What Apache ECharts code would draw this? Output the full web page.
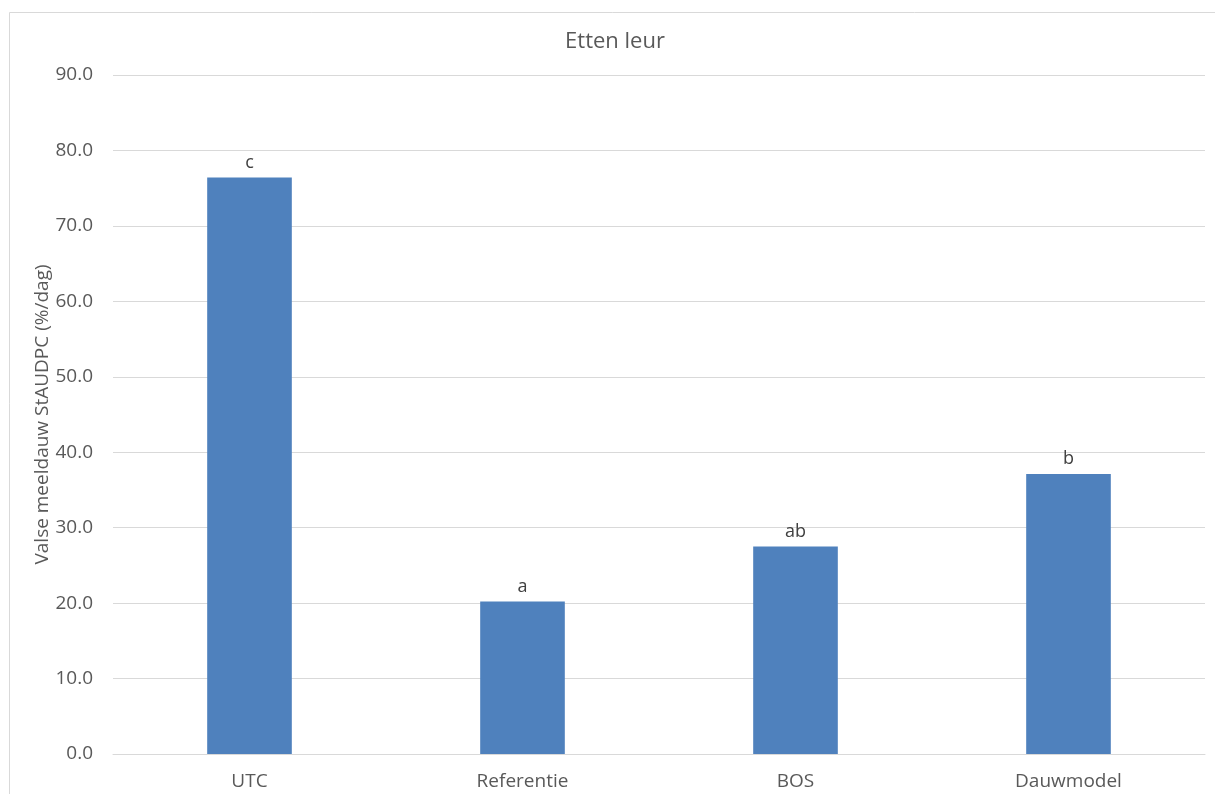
<!DOCTYPE html>
<html>
<head>
<meta charset="utf-8">
<script src="https://cdn.jsdelivr.net/npm/echarts@6/dist/echarts.min.js"></script>
<style>
html,body{margin:0;padding:0;background:#fff;}
#chart{width:1215px;height:794px;}
</style>
</head>
<body>
<div id="chart"></div>
<script>
const categories = ['UTC', 'Referentie', 'BOS', 'Dauwmodel'];
const values = [76.4, 20.2, 27.5, 37.1];
const letters = ['c', 'a', 'ab', 'b'];
const yTicks = {min: 0, max: 90, interval: 10};

const FONT = '"Open Sans", sans-serif';
const chart = echarts.init(document.getElementById('chart'));
chart.setOption({
  animation: false,
  backgroundColor: '#ffffff',
  graphic: [{
    type: 'rect',
    shape: {x: 9.5, y: 12.5, width: 1230, height: 820},
    style: {fill: 'none', stroke: '#D9D9D9', lineWidth: 1},
    silent: true,
    z: -1
  }],
  title: {
    text: 'Etten leur',
    left: 610,
    top: 26,
    textAlign: 'center',
    textStyle: {fontFamily: FONT, fontSize: 22, fontWeight: 'normal', color: '#595959'}
  },
  grid: {left: 113, right: 10, top: 75, bottom: 40, containLabel: false},
  xAxis: {
    type: 'category',
    data: categories,
    axisLine: {show: true, lineStyle: {color: '#D9D9D9', width: 1}},
    axisTick: {show: false},
    axisLabel: {fontFamily: FONT, fontSize: 19, color: '#595959', margin: 18}
  },
  yAxis: {
    type: 'value',
    min: yTicks.min,
    max: yTicks.max,
    interval: yTicks.interval,
    name: 'Valse meeldauw StAUDPC (%/dag)',
    nameLocation: 'middle',
    nameGap: 61,
    nameMoveOverlap: false,
    nameTextStyle: {fontFamily: FONT, fontSize: 19, color: '#595959'},
    axisLine: {show: false},
    axisTick: {show: false},
    axisLabel: {fontFamily: FONT, fontSize: 19, color: '#595959', margin: 20,
      formatter: v => v.toFixed(1)},
    splitLine: {lineStyle: {color: '#D9D9D9', width: 1}}
  },
  series: [{
    type: 'bar',
    data: values,
    barWidth: '31%',
    itemStyle: {color: '#4F81BD'},
    label: {
      show: true,
      position: 'top',
      distance: 6,
      fontFamily: FONT,
      fontSize: 18,
      color: '#404040',
      formatter: p => letters[p.dataIndex]
    }
  }]
});
</script>
</body>
</html>
